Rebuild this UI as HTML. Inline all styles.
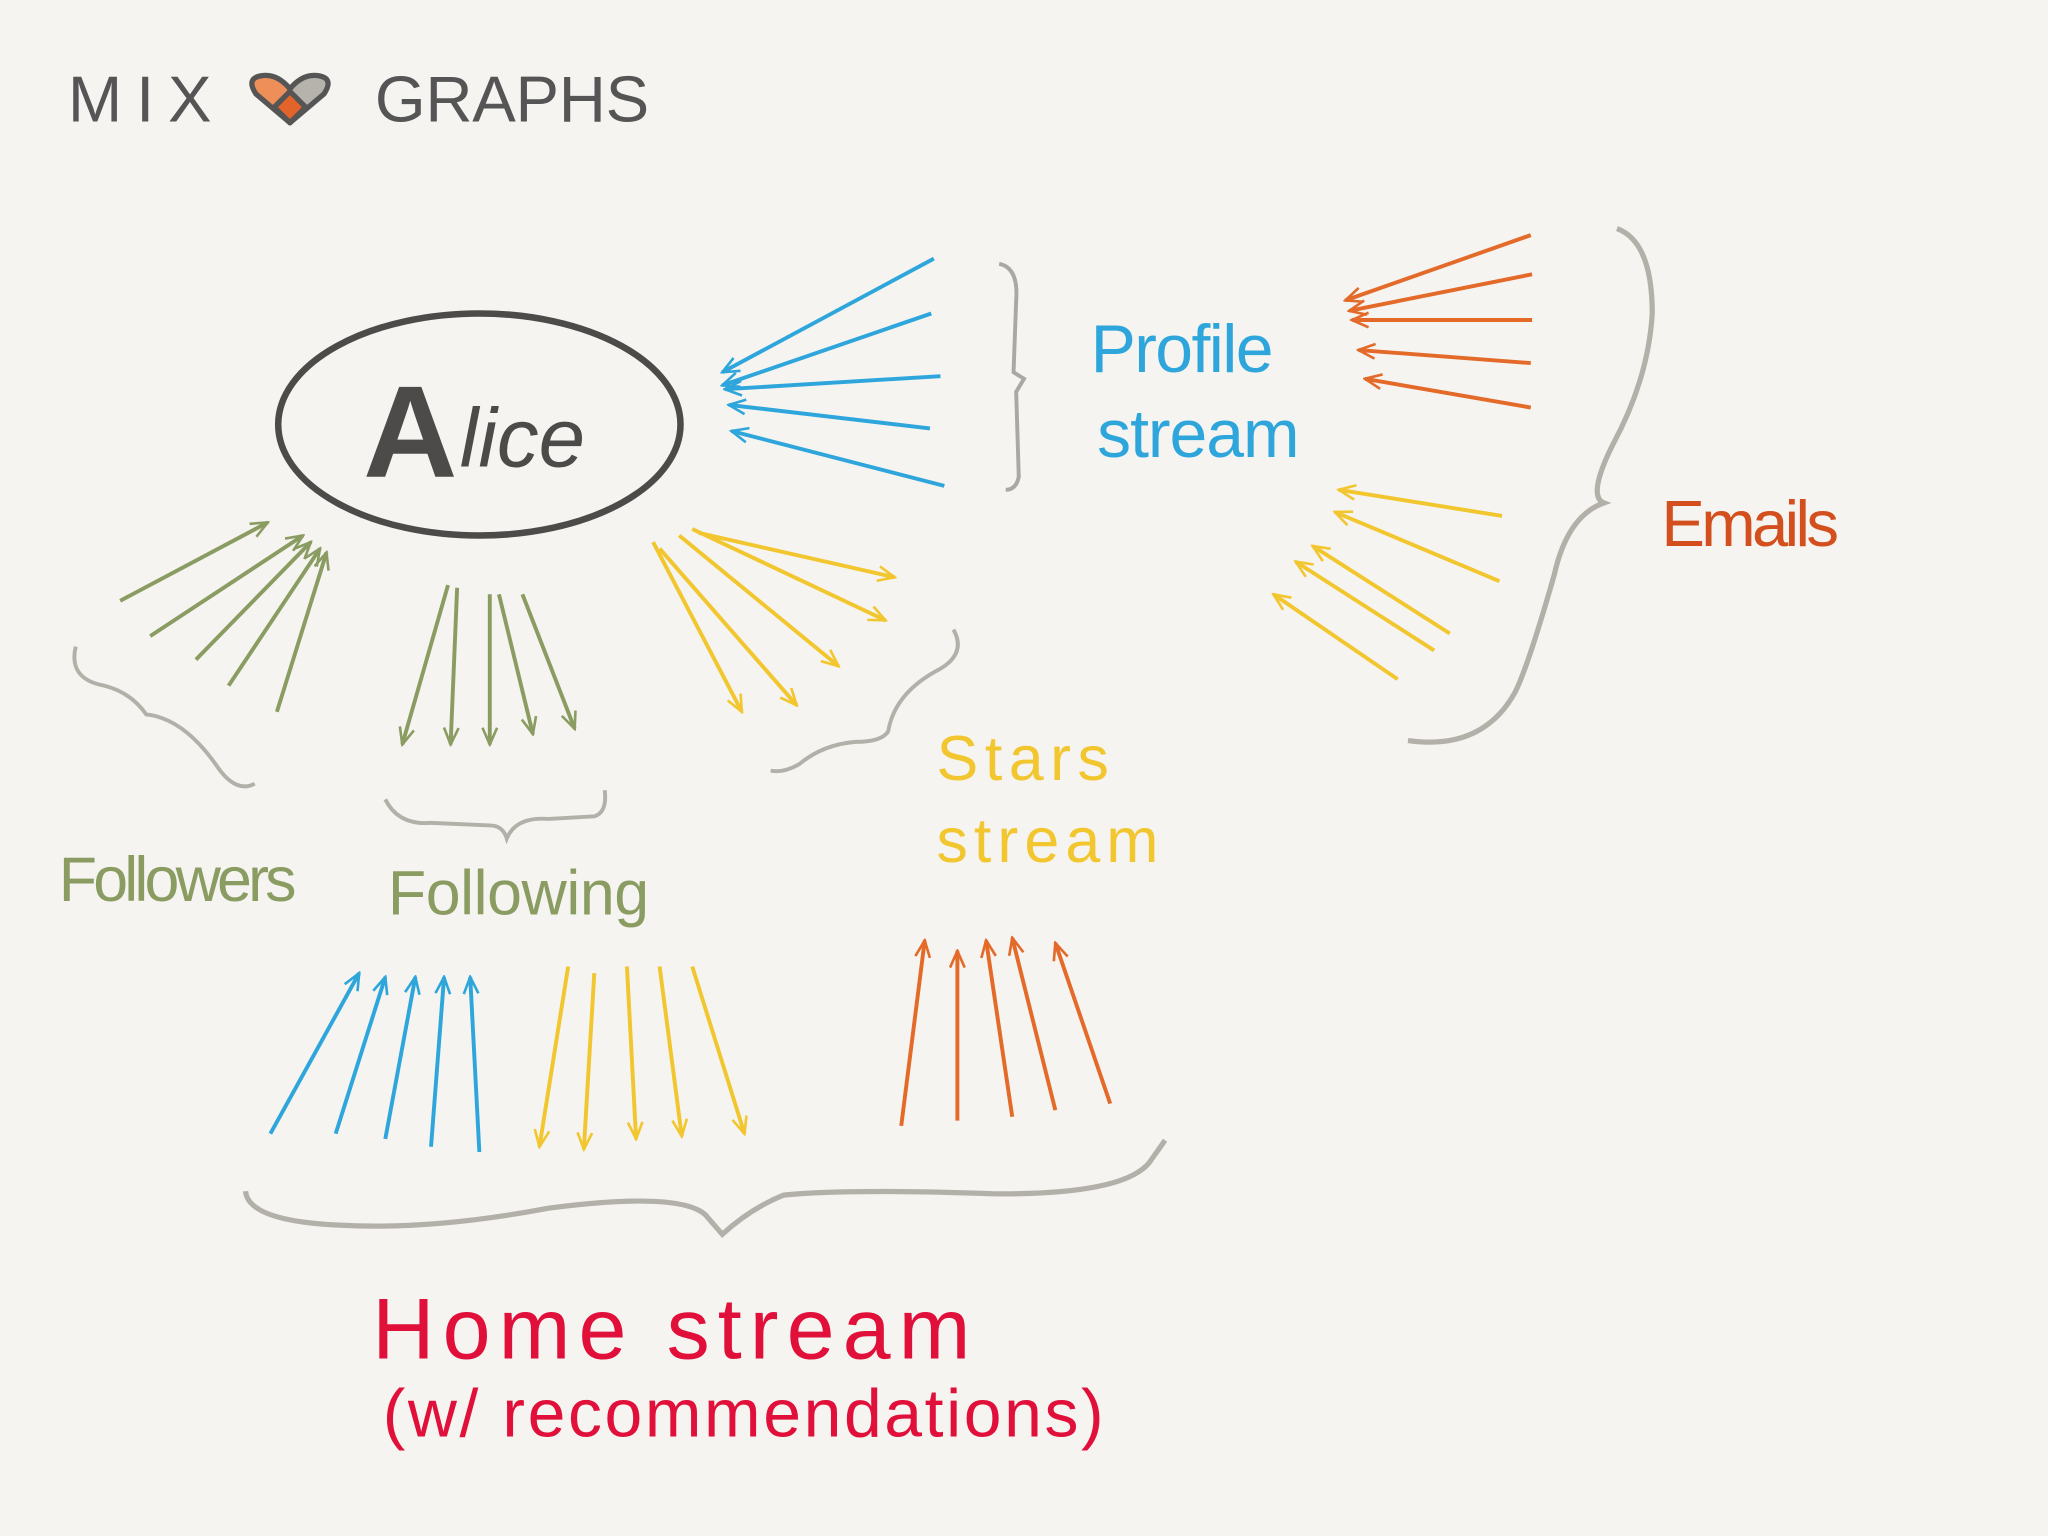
<!DOCTYPE html>
<html><head><meta charset="utf-8"><style>
html,body{margin:0;padding:0;background:#f5f4f0;}
svg{display:block}
text{font-family:"Liberation Sans",sans-serif;}
</style></head><body>
<svg width="2048" height="1536" viewBox="0 0 1568 1176" xmlns="http://www.w3.org/2000/svg">
<defs>
<marker id="mb" viewBox="0 0 20 20" refX="18" refY="10" markerWidth="16" markerHeight="16" orient="auto" markerUnits="userSpaceOnUse"><path d="M2 3 L18 10 L2 17" fill="none" stroke="#2ea6dc" stroke-width="2.5"/></marker>
<marker id="mo" viewBox="0 0 20 20" refX="18" refY="10" markerWidth="16" markerHeight="16" orient="auto" markerUnits="userSpaceOnUse"><path d="M2 3 L18 10 L2 17" fill="none" stroke="#e46a2a" stroke-width="2.5"/></marker>
<marker id="my" viewBox="0 0 20 20" refX="18" refY="10" markerWidth="16" markerHeight="16" orient="auto" markerUnits="userSpaceOnUse"><path d="M2 3 L18 10 L2 17" fill="none" stroke="#f2c62f" stroke-width="2.5"/></marker>
<marker id="mg" viewBox="0 0 20 20" refX="18" refY="10" markerWidth="16" markerHeight="16" orient="auto" markerUnits="userSpaceOnUse"><path d="M2 3 L18 10 L2 17" fill="none" stroke="#8a9c62" stroke-width="2.5"/></marker>
</defs>
<rect width="1568" height="1176" fill="#f5f4f0"/>
<text x="52" y="93" font-size="50" fill="#555" textLength="110">MIX</text>
<g stroke="#555" stroke-width="4" stroke-linejoin="round">
<path d="M222 94 L196 72 Q188 60 200 58 Q212 56 222 68 Z" fill="#ee8f5a"/>
<path d="M222 94 L248 72 Q256 60 244 58 Q232 56 222 68 Z" fill="#b5b3ab"/>
<path d="M222 94 L210 82 L222 70 L234 82 Z" fill="#e2642a"/>
</g>
<text x="287" y="93" font-size="50" fill="#555" textLength="210">GRAPHS</text>
<ellipse cx="367" cy="325" rx="154" ry="85" fill="none" stroke="#4d4b49" stroke-width="5"/>
<text x="278" y="365" font-size="100" font-weight="bold" fill="#4d4b49">A</text>
<text x="352" y="357" font-size="64" font-style="italic" fill="#4d4b49" font-family="Liberation Serif, serif">lice</text>
<g stroke="#2ea6dc" stroke-width="3" fill="none" marker-end="url(#mb)">
<path d="M715 198 L553 285"/><path d="M713 240 L553 295"/><path d="M720 288 L555 298"/><path d="M712 328 L558 310"/><path d="M723 372 L560 330"/>
</g>
<path d="M765 202 Q780 205 778 230 L776 285 L784 290 L778 300 L780 365 Q778 375 770 375" fill="none" stroke="#aaa8a2" stroke-width="3"/>
<text x="835" y="285" font-size="52" fill="#2ea6dc" textLength="140">Profile</text>
<text x="840" y="350" font-size="52" fill="#2ea6dc" textLength="155">stream</text>
<g stroke="#e46a2a" stroke-width="3" fill="none" marker-end="url(#mo)">
<path d="M1172 180 L1030 230"/><path d="M1173 210 L1033 238"/><path d="M1173 245 L1035 245"/><path d="M1172 278 L1040 268"/><path d="M1172 312 L1045 290"/>
</g>
<g stroke="#f2c62f" stroke-width="3" fill="none" marker-end="url(#my)">
<path d="M1150 395 L1025 375"/><path d="M1148 445 L1022 392"/><path d="M1110 485 L1005 418"/><path d="M1098 498 L992 430"/><path d="M1070 520 L975 455"/>
</g>
<path d="M1238 175 Q1265 185 1265 240 Q1262 290 1235 340 Q1215 380 1228 385 Q1200 395 1190 440 Q1170 510 1160 530 Q1135 575 1078 567" fill="none" stroke="#b3b0a9" stroke-width="4"/>
<text x="1272" y="418" font-size="50" fill="#d3501e" textLength="136">Emails</text>
<g stroke="#8a9c62" stroke-width="3" fill="none" marker-end="url(#mg)">
<path d="M92 460 L205 400"/><path d="M115 487 L232 410"/><path d="M150 505 L238 415"/><path d="M175 525 L245 420"/><path d="M212 545 L250 423"/>
</g>
<path d="M58 495 Q52 520 80 525 Q100 530 112 547 Q140 550 165 585 Q180 608 195 600" fill="none" stroke="#b3b0a9" stroke-width="3"/>
<text x="45" y="690" font-size="48" fill="#8a9c62" textLength="182">Followers</text>
<g stroke="#8a9c62" stroke-width="3" fill="none" marker-end="url(#mg)">
<path d="M343 448 L308 570"/><path d="M350 450 L345 570"/><path d="M375 455 L375 570"/><path d="M382 455 L408 562"/><path d="M400 455 L440 558"/>
</g>
<path d="M295 612 Q305 632 330 630 L375 632 Q385 632 388 642 Q395 625 420 627 L455 625 Q465 622 463 605" fill="none" stroke="#b3b0a9" stroke-width="3"/>
<text x="297" y="700" font-size="48" fill="#8a9c62" textLength="200">Following</text>
<g stroke="#f2c62f" stroke-width="3" fill="none" marker-end="url(#my)">
<path d="M500 415 L568 545"/><path d="M505 420 L610 540"/><path d="M520 410 L642 510"/><path d="M530 405 L678 475"/><path d="M535 408 L685 442"/>
</g>
<path d="M730 482 Q740 500 720 512 Q685 530 680 560 Q675 568 655 568 Q630 570 612 585 Q600 592 590 590" fill="none" stroke="#b3b0a9" stroke-width="3"/>
<text x="717" y="597" font-size="48" fill="#f2c62f" textLength="132">Stars</text>
<text x="717" y="660" font-size="48" fill="#f2c62f" textLength="170">stream</text>
<g stroke="#2ea6dc" stroke-width="3" fill="none" marker-end="url(#mb)">
<path d="M207 868 L275 745"/><path d="M257 868 L295 748"/><path d="M295 872 L318 748"/><path d="M330 878 L340 748"/><path d="M367 882 L360 748"/>
</g>
<g stroke="#f2c62f" stroke-width="3" fill="none" marker-end="url(#my)">
<path d="M435 740 L413 878"/><path d="M455 745 L447 880"/><path d="M480 740 L487 872"/><path d="M505 740 L522 870"/><path d="M530 740 L570 868"/>
</g>
<g stroke="#e46a2a" stroke-width="3" fill="none" marker-end="url(#mo)">
<path d="M690 862 L708 720"/><path d="M733 858 L733 728"/><path d="M775 855 L755 720"/><path d="M808 850 L775 718"/><path d="M850 845 L808 722"/>
</g>
<path d="M188 912 Q190 935 260 938 Q330 942 420 925 Q520 912 540 930 L553 945 Q575 925 600 915 Q650 910 760 914 Q860 915 880 890 L892 873" fill="none" stroke="#b3b0a9" stroke-width="4"/>
<text x="285" y="1040" font-size="66" fill="#e0103a" textLength="458">Home  stream</text>
<text x="293" y="1100" font-size="52" fill="#e0103a" textLength="552">(w/ recommendations)</text>
</svg>
</body></html>
